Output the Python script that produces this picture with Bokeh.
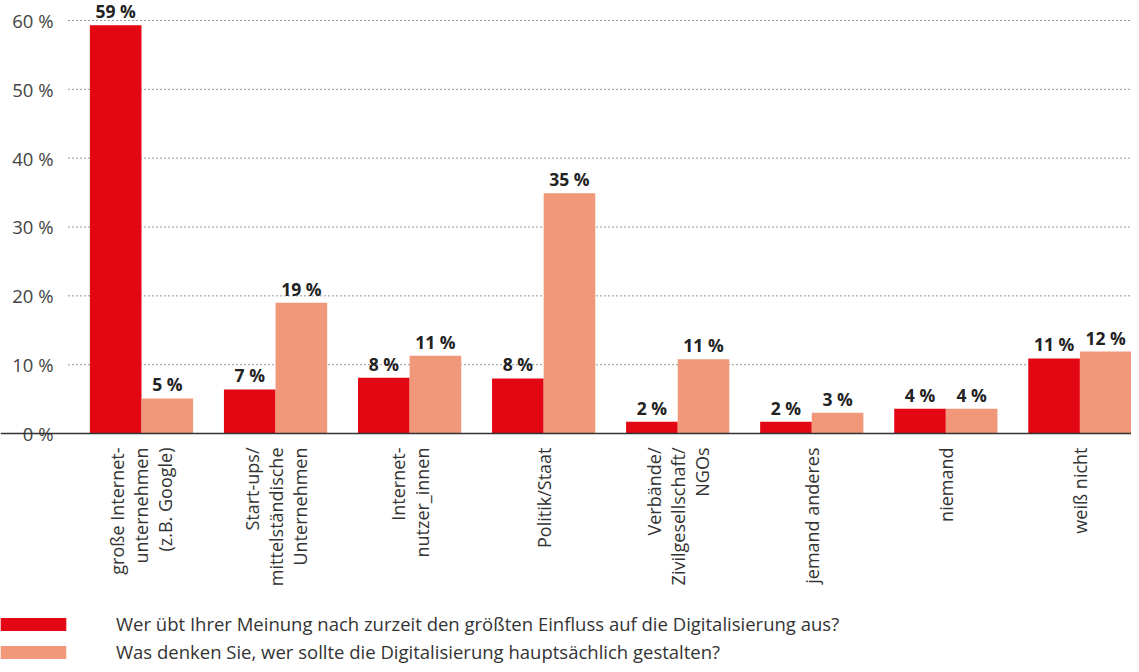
import math
from bokeh.plotting import figure
from bokeh.models import (ColumnDataSource, Legend, LegendItem, Range1d, Span)
from bokeh.transform import dodge
from bokeh.core.properties import value
from bokeh.embed import file_html
from bokeh.resources import INLINE

# ---- data ----
categories = [
    "große Internet-\nunternehmen\n(z.B. Google)",
    "Start-ups/\nmittelständische\nUnternehmen",
    "Internet-\nnutzer_innen",
    "Politik/Staat",
    "Verbände/\nZivilgesellschaft/\nNGOs",
    "jemand anderes",
    "niemand",
    "weiß nicht",
]
einfluss = [59.3, 6.4, 8.1, 8.0, 1.7, 1.7, 3.6, 10.9]
gestalten = [5.1, 19.0, 11.3, 34.9, 10.8, 3.0, 3.6, 11.9]
einfluss_labels = ["59 %", "7 %", "8 %", "8 %", "2 %", "2 %", "4 %", "11 %"]
gestalten_labels = ["5 %", "19 %", "11 %", "35 %", "11 %", "3 %", "4 %", "12 %"]
y_ticks = [0, 10, 20, 30, 40, 50, 60]
y_tick_labels = ["0 %", "10 %", "20 %", "30 %", "40 %", "50 %", "60 %"]
series_names = [
    "Wer übt Ihrer Meinung nach zurzeit den größten Einfluss auf die Digitalisierung aus?",
    "Was denken Sie, wer sollte die Digitalisierung hauptsächlich gestalten?",
]

RED = "#e30613"
SALMON = "#f2987a"
FONT = "Open Sans"

# ---- layout (pixels) ----
W, H = 1131, 664
PX_X = 134.06            # pixels per category step
X0 = -141 / PX_X         # left edge of the frame in category units
PLOT_LEFT = X0 + 68 / PX_X
TICK_LABEL_X = X0 + 53 / PX_X
PX_Y = 6.8833            # pixels per percent
Y_END = 60 + 20 / PX_Y
Y_START = -(H - 433) / PX_Y
BW = 0.385

idx = list(range(len(categories)))
src = ColumnDataSource(dict(
    x=idx, a=einfluss, b=gestalten, la=einfluss_labels, lb=gestalten_labels,
))
cat_src = ColumnDataSource(dict(x=idx, y=[0] * len(idx), t=categories))
tick_src = ColumnDataSource(dict(x=[TICK_LABEL_X] * len(y_ticks), y=y_ticks,
                                 t=y_tick_labels))
grid_src = ColumnDataSource(dict(x0=[PLOT_LEFT] * (len(y_ticks) - 1),
                                 x1=[7 + BW] * (len(y_ticks) - 1),
                                 y=y_ticks[1:]))

x_range = Range1d(X0, 7 + BW)
y_range = Range1d(Y_START, Y_END)

p = figure(width=W, height=H, x_range=x_range, y_range=y_range,
           output_backend="svg", toolbar_location=None,
           min_border_left=0, min_border_right=0, min_border_top=0,
           min_border_bottom=0)
p.outline_line_color = None
p.background_fill_color = "white"
p.border_fill_color = "white"
p.xaxis.visible = False
p.yaxis.visible = False
p.xgrid.grid_line_color = None
p.ygrid.grid_line_color = None

# dotted horizontal grid lines at the y ticks
p.segment(x0="x0", x1="x1", y0="y", y1="y", source=grid_src,
          line_color="#333333", line_dash="1 3", line_width=1)

r1 = p.vbar(x=dodge("x", -BW / 2, range=x_range), top="a", width=BW,
            source=src, fill_color=RED, line_color=None)
r2 = p.vbar(x=dodge("x", BW / 2, range=x_range), top="b", width=BW,
            source=src, fill_color=SALMON, line_color=None)

for col, top, off in (("la", "a", -BW / 2), ("lb", "b", BW / 2)):
    p.text(x=dodge("x", off, range=x_range), y=top,
           text=col, source=src, text_align="center",
           text_baseline="bottom", y_offset=-2,
           text_font=value(FONT), text_font_style="bold",
           text_font_size="17.5px", text_color="#222222")

# category labels (rotated, reading bottom to top, right aligned at the axis)
p.text(x="x", y="y", text="t", source=cat_src, angle=math.pi / 2,
       text_align="right", text_baseline="middle", y_offset=14,
       text_font=value(FONT), text_font_size="18px", text_color="#333333",
       text_line_height=1.0)

# y tick labels
p.text(x="x", y="y", text="t", source=tick_src, text_align="right",
       text_baseline="middle", text_font=value(FONT),
       text_font_size="18.5px", text_color="#444444")

# baseline
p.add_layout(Span(location=0, dimension="width", line_color="#333333",
                  line_width=1.5))

legend = Legend(items=[LegendItem(label=series_names[0], renderers=[r1]),
                       LegendItem(label=series_names[1], renderers=[r2])],
                location=(-8, 0), orientation="vertical",
                glyph_width=82, glyph_height=16, label_standoff=42,
                label_height=20, spacing=3, padding=0, margin=0,
                border_line_color=None, background_fill_alpha=0,
                label_text_font=FONT, label_text_font_size="18.5px",
                label_text_color="#333333")
p.add_layout(legend)

open("out.html", "w").write(file_html(p, INLINE))
